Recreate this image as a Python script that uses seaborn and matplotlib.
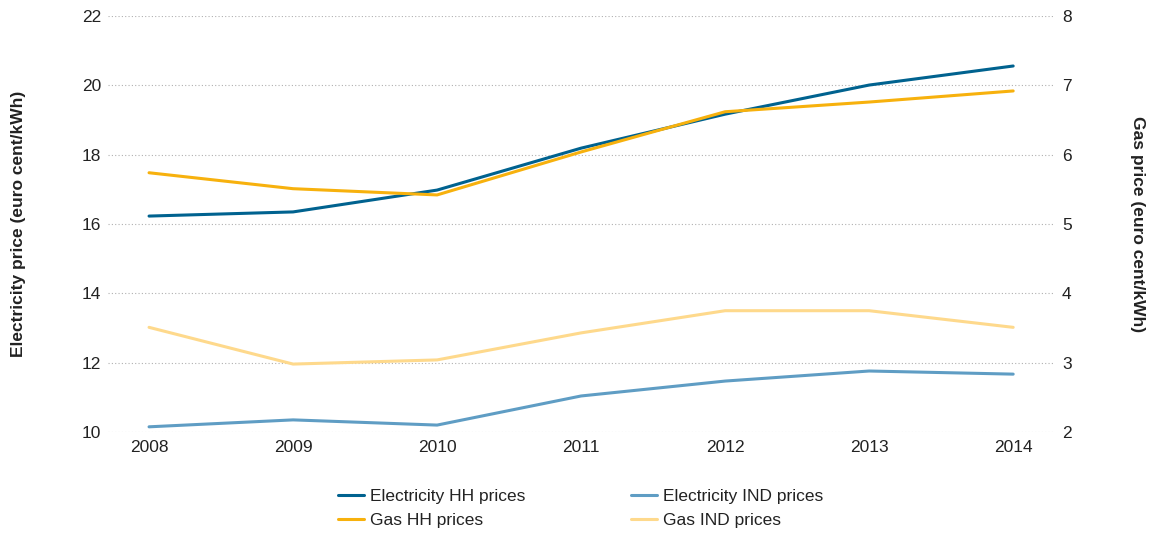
import matplotlib
matplotlib.use("Agg")
import matplotlib.pyplot as plt
import seaborn as sns
import pandas as pd

years = [2008, 2009, 2010, 2011, 2012, 2013, 2014]
elec_hh = [16.23, 16.35, 16.98, 18.19, 19.17, 20.01, 20.56]
elec_ind = [10.15, 10.35, 10.20, 11.04, 11.47, 11.76, 11.67]
gas_hh = [5.74, 5.51, 5.42, 6.04, 6.62, 6.76, 6.92]
gas_ind = [3.51, 2.98, 3.04, 3.43, 3.75, 3.75, 3.51]

colors = {
    "Electricity HH prices": "#00628f",
    "Electricity IND prices": "#5f9dc4",
    "Gas HH prices": "#f7b10d",
    "Gas IND prices": "#fed98c",
}

sns.set_style("white")
plt.rcParams['font.family'] = ['Liberation Sans', 'DejaVu Sans']

elec = pd.DataFrame({"year": years * 2,
                     "price": elec_hh + elec_ind,
                     "series": ["Electricity HH prices"] * 7 + ["Electricity IND prices"] * 7})
gas = pd.DataFrame({"year": years * 2,
                    "price": gas_hh + gas_ind,
                    "series": ["Gas HH prices"] * 7 + ["Gas IND prices"] * 7})

fig = plt.figure(figsize=(11.52, 5.36), dpi=100)
ax = fig.add_axes([0.09375, 0.194, 0.822, 0.776])
ax2 = ax.twinx()

sns.lineplot(data=elec, x="year", y="price", hue="series", palette=colors,
             linewidth=2.2, ax=ax, legend=False)
sns.lineplot(data=gas, x="year", y="price", hue="series", palette=colors,
             linewidth=2.2, ax=ax2, legend=False)

ax.set_xlim(2007.715, 2014.29)
ax.set_ylim(10, 22)
ax2.set_ylim(2, 8)
ax.set_yticks(range(10, 23, 2))
ax2.set_yticks(range(2, 9))
ax.set_xticks(years)

ax.grid(axis="y", linestyle=(0, (1, 2)), color="#b0b0b0", linewidth=0.8)
ax.grid(axis="x", visible=False)
ax2.grid(False)

for a in (ax, ax2):
    for s in a.spines.values():
        s.set_visible(False)
    a.tick_params(length=0, labelsize=12.5, colors="#222222")
ax.tick_params(axis="y", pad=5)
ax2.tick_params(axis="y", pad=5)
ax.tick_params(axis="x", pad=6)

ax.set_xlabel("")
ax.set_ylabel("")
ax2.set_ylabel("")
fig.text(0.016, 0.582, "Electricity price (euro cent/kWh)", fontsize=12.5, fontweight="bold",
         color="#222222", rotation=90, ha="center", va="center")
fig.text(0.987, 0.582, "Gas price (euro cent/kWh)", fontsize=12.5, fontweight="bold",
         color="#222222", rotation=270, ha="center", va="center")

order = ["Electricity HH prices", "Gas HH prices", "Electricity IND prices", "Gas IND prices"]
handles = [plt.Line2D([], [], color=colors[k], linewidth=2.2) for k in order]
fig.legend(handles, order, ncol=2, loc="center", bbox_to_anchor=(0.504, 0.052),
           frameon=False, fontsize=12.5, handlelength=1.5, handletextpad=0.35,
           columnspacing=6.1, labelspacing=0.5, labelcolor="#222222")

fig.savefig("out.png", dpi=100)
